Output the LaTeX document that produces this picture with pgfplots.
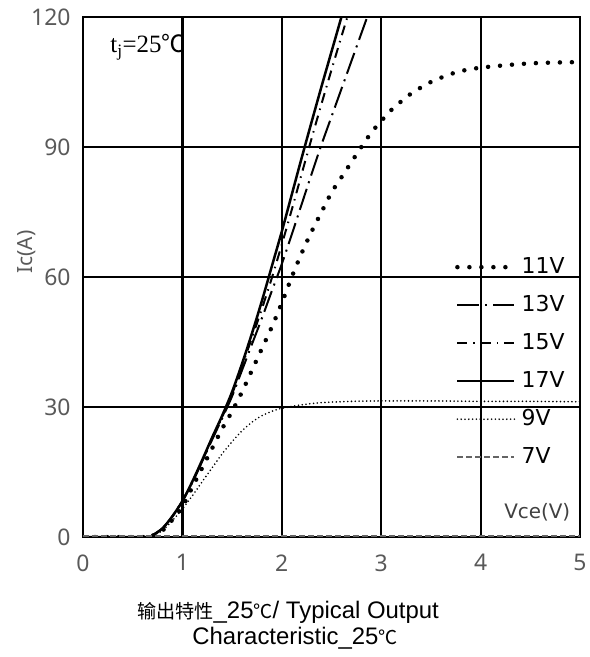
\documentclass[border=0pt]{standalone}
\usepackage{pgfplots}
\pgfplotsset{compat=1.18}
\usepackage{fontspec}
\setmainfont{Liberation Sans}
\newfontfamily\cjk[Scale=0.8]{Noto Sans CJK SC}
\newfontfamily\cjkfull{Noto Sans CJK SC}
\newfontfamily\tickfont{Noto Sans}
\newfontfamily\legfont{DejaVu Sans}
\newfontfamily\serif{Liberation Serif}
\definecolor{tickgray}{RGB}{89,89,89}
\definecolor{dgray}{RGB}{64,64,64}
\definecolor{sevgray}{RGB}{100,100,100}

\begin{document}
\begin{tikzpicture}
\path[use as bounding box] (0bp,0bp) rectangle (590bp,657bp);
\begin{axis}[
  at={(83bp,120bp)}, anchor=south west,
  scale only axis, width=497bp, height=520bp,
  xmin=0, xmax=5, ymin=0, ymax=120,
  xtick={0,1,2,3,4,5}, ytick={0,30,60,90,120},
  grid=major, major grid style={black, line width=2.2bp},
  axis line style={black, line width=2.6bp},
  major tick length=0pt,
  clip mode=individual,
  tick label style={font=\tickfont\fontsize{23}{23}\selectfont, text=tickgray},
  /pgf/number format/assume math mode=true,
  xticklabel style={yshift=-14bp},
  yticklabel style={xshift=-9bp},
  legend style={draw=none, fill=none, inner sep=0pt,
    at={(axis cs:3.742,63.7)}, anchor=north west,
    font=\legfont\fontsize{22}{22}\selectfont,
    nodes={inner sep=0pt, text height=12bp, text depth=0bp},
    row sep=26bp},
  legend cell align=left,
  legend image code/.code={\draw[#1] (0bp,0bp) -- (57bp,0bp);},
  /tikz/every odd column/.append style={column sep=5bp},
]
% 11V
\addplot[black, line width=4.5bp, line cap=round, dash pattern=on 0bp off 12bp, smooth] coordinates {
(0,0)(0.65,0)(0.7,0.3)(0.8,1.5)(0.9,4)(1.0,7)(1.1,11.5)(1.2,16)(1.3,20.5)(1.4,25)(1.5,29)(1.6,33.5)(1.7,38.5)(1.8,43.5)(1.9,48.5)(2.0,54)(2.1,60)(2.2,65.5)(2.3,70.5)(2.4,75)(2.5,79.5)(2.6,83)(2.7,86.5)(2.8,90)(2.9,93.3)(3.0,96)(3.1,98.5)(3.2,100.5)(3.3,102.3)(3.5,105)(3.75,107.2)(4.0,108.3)(4.5,109.3)(5.0,109.6)};
\addlegendentry{11V}
% 13V
\addplot[black, line width=2bp, dash pattern=on 22bp off 6bp on 2bp off 6bp, smooth] coordinates {
(0,0)(0.65,0)(0.7,0.4)(0.8,2)(0.9,4.8)(1.0,8.3)(1.1,12.6)(1.2,17.5)(1.3,22.5)(1.4,27.4)(1.5,32.5)(1.6,38.5)(1.7,44.5)(1.8,50.5)(1.9,56.8)(2.0,63)(2.1,69.8)(2.2,76.8)(2.3,83.8)(2.4,90.6)(2.5,97)(2.6,103.4)(2.7,109.8)(2.8,116.2)(2.9,122.6)};
\addlegendentry{13V}
% 15V
\addplot[black, line width=2bp, dash pattern=on 10bp off 6bp on 1.5bp off 6bp, smooth] coordinates {
(0,0)(0.65,0)(0.7,0.4)(0.8,2)(0.9,4.8)(1.0,8.3)(1.1,12.7)(1.2,17.6)(1.3,22.7)(1.4,27.7)(1.5,33)(1.6,39.5)(1.7,46)(1.8,52.7)(1.9,59.8)(2.0,67.5)(2.1,75.5)(2.2,83.8)(2.3,92)(2.4,100)(2.5,107.8)(2.6,115.5)(2.7,123)};
\addlegendentry{15V}
% 17V
\addplot[black, line width=2.5bp, smooth] coordinates {
(0,0)(0.65,0)(0.7,0.4)(0.8,2)(0.9,4.8)(1.0,8.3)(1.1,12.8)(1.2,17.8)(1.3,23)(1.4,28)(1.5,33.5)(1.6,40)(1.7,47)(1.8,54.5)(1.9,62.5)(2.0,70.5)(2.1,79)(2.2,87.5)(2.3,95.8)(2.4,104)(2.5,112)(2.6,120)(2.7,128)};
\addlegendentry{17V}
% 9V
\addplot[black, line width=1.8bp, line cap=round, dash pattern=on 0bp off 3.8bp, smooth] coordinates {
(0,0)(0.65,0)(0.7,0.3)(0.8,1.5)(0.9,3.8)(1.0,6.5)(1.1,9.5)(1.2,12.8)(1.3,16)(1.4,19.2)(1.5,22)(1.6,24.5)(1.7,26.5)(1.8,28)(1.9,29)(2.0,29.7)(2.2,30.5)(2.4,31)(2.7,31.3)(3.0,31.4)(3.5,31.4)(4.0,31.3)(4.5,31.3)(5.0,31.2)};
\addlegendentry{9V}
% 7V
\addplot[sevgray, line width=2bp, dash pattern=on 6bp off 3bp] coordinates {(0,0.3)(5,0.3)};
\addlegendentry{7V}

\node[anchor=west, font=\serif\fontsize{25}{25}\selectfont] at (axis cs:0.24,113) {t\textsubscript{j}=25{\cjkfull\fontsize{24}{24}\selectfont ℃}};
\node[font=\legfont\fontsize{20}{20}\selectfont, text=dgray] at (axis cs:4.57,5.8) {Vce(V)};
\node[rotate=90, font=\tickfont\fontsize{21}{21}\selectfont, text=tickgray] at (axis description cs:-0.1127,0.548) {Ic(A)};
\end{axis}
\node[align=center, font=\fontsize{24}{26}\selectfont] at (288bp,32bp) {{\cjk 输出特性}\_25{\cjk ℃}/ Typical Output\\\hspace*{14bp}Characteristic\_25{\cjk ℃}};
\end{tikzpicture}
\end{document}
